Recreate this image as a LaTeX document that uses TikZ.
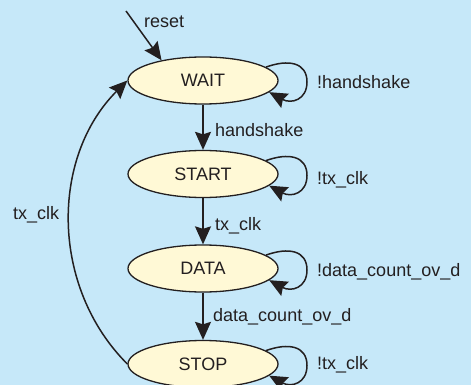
\documentclass[tikz,border=0pt]{standalone}
\usepackage{fontspec}
\setmainfont{Liberation Sans}
\usetikzlibrary{shapes.geometric,arrows.meta,calc}
\definecolor{bgblue}{HTML}{C6E8F9}
\definecolor{stfill}{HTML}{FFF9D6}
\definecolor{ink}{HTML}{231F20}
\tikzset{
  state/.style={ellipse, draw=ink, fill=stfill, line width=1.3pt,
    minimum width=150pt, minimum height=47pt, inner sep=0pt,
    text=ink, font=\fontsize{18}{21}\selectfont},
  arr/.style={draw=ink, line width=1.5pt,
    -{Stealth[length=18pt,width=16pt,inset=2.5pt]}},
  lbl/.style={anchor=base west, inner sep=0pt, text=ink,
    font=\fontsize{18}{21}\selectfont},
}
\begin{document}
\begin{tikzpicture}[x=1pt,y=-1pt]
\fill[bgblue] (0,0) rectangle (471,385);
\useasboundingbox (0,0) rectangle (471,385);
\node[state] (W) at (203,80.5) {WAIT};
\node[state] (S) at (203,174) {START};
\node[state] (D) at (203,268.5) {DATA};
\node[state] (P) at (203,364) {STOP};
\coordinate (rs) at (126,11);
% reset
\draw[arr] (rs) -- (W.154);
\node[lbl] (lreset) at (144,28) {reset};
% vertical transitions
\draw[arr] (W.south) -- (S.north);
\draw[arr] (S.south) -- (D.north);
\draw[arr] (D.south) -- (P.north);
\node[lbl] (l1) at (215,136) {handshake};
\node[lbl] (l2) at (215,230) {tx\_clk};
\node[lbl] (l3) at (213,321) {data\_count\_ov\_d};
% self loops
\foreach \n in {W,S,D,P}{
  \draw[arr] (\n.12) .. controls +(22,-8) and +(0,-20) .. ($(\n)+(104,1.5)$)
     .. controls +(0,18) and +(22,12) .. (\n.-10);
}
\node[lbl] (s1) at (317,89) {!handshake};
\node[lbl] (s2) at (317,184) {!tx\_clk};
\node[lbl] (s3) at (317,276) {!data\_count\_ov\_d};
\node[lbl] (s4) at (317,369) {!tx\_clk};
% return
\draw[arr] (P.west) .. controls +(-77,-77) and +(-77,77) .. (W.west);
\node[lbl] (lret) at (13,219) {tx\_clk};
\end{tikzpicture}
\end{document}
